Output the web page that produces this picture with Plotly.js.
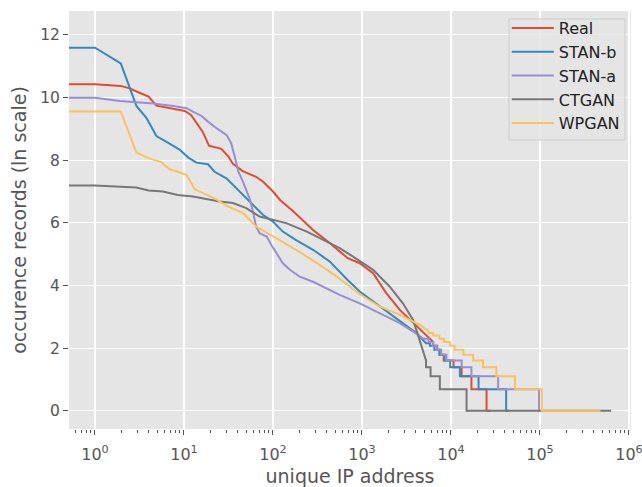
<!DOCTYPE html>
<html><head><meta charset="utf-8">
<script src="https://cdn.plot.ly/plotly-3.0.1.min.js"></script>
<style>html,body{margin:0;padding:0;background:#fff}#chart{width:642px;height:487px}</style>
</head><body><div id="chart"></div>
<script>
const seriesNames = ["Real", "STAN-b", "STAN-a", "CTGAN", "WPGAN"];
const seriesColors = ["#E24A33", "#348ABD", "#988ED5", "#777777", "#FBC15E"];

const realX = [0.5,1,1.95,2.45,3.16,4.0,4.9,6.9,10.2,12.0,13.8,16.2,19.1,26.3,31.6,35.5,45.7,64.6,77.6,100,120,170,282,437,692,944,1334,1884,2661,3758,4898,6310,6310,7000,7000,7600,7600,8300,8300,10700,10700,13183,13183,16982,16982,25119,25119,28000];
const realY = [10.42,10.42,10.37,10.29,10.15,10.03,9.74,9.66,9.57,9.44,9.18,8.91,8.46,8.36,8.11,7.88,7.65,7.47,7.31,7.0,6.73,6.36,5.77,5.35,4.87,4.71,4.39,3.75,3.22,2.80,2.48,2.20,2.08,2.08,1.95,1.95,1.79,1.79,1.61,1.61,1.39,1.39,1.10,1.10,0.69,0.69,0,0];

const stanbX = [0.5,1,1.95,2.92,3.8,4.9,6.3,9.0,11.1,13.8,18.6,22.1,30,38.9,47.9,59.7,77.6,100,129,182,282,437,676,944,1585,2661,4074,5248,5800,5800,6500,6500,7400,7400,8500,8500,9800,9800,12600,12600,20417,20417,41700,41700,45000];
const stanbY = [11.59,11.59,11.09,9.73,9.34,8.77,8.59,8.33,8.09,7.92,7.87,7.63,7.42,7.10,6.84,6.60,6.25,6.04,5.72,5.45,5.14,4.76,4.20,3.81,3.33,2.85,2.48,2.16,2.16,2.08,2.08,1.95,1.95,1.79,1.79,1.61,1.61,1.39,1.39,1.10,1.10,0.69,0.69,0,0];

const stanaX = [0.5,1,1.9,4.47,7.6,10.7,12.6,15.8,18.6,23.2,30.2,33.9,37.2,40.7,46.2,50.1,55,60.3,64.6,70.8,85.1,95.5,110,129,155,200,282,437,562,944,1585,2661,3758,4898,5600,5600,6300,6300,6918,6918,7762,7762,8900,8900,13183,13183,16982,16982,33884,33884,97700,97700,100000];
const stanaY = [9.99,9.99,9.89,9.81,9.73,9.66,9.55,9.41,9.23,9.02,8.80,8.54,8.11,7.65,7.30,7.05,6.75,6.30,5.88,5.67,5.56,5.30,5.03,4.71,4.50,4.28,4.12,3.85,3.70,3.43,3.12,2.80,2.53,2.30,2.30,2.20,2.20,2.08,2.08,1.95,1.95,1.79,1.79,1.61,1.61,1.39,1.39,1.10,1.10,0.69,0.69,0,0];

const ctganX = [0.5,1,2.92,4.0,5.8,8.5,12.6,17.8,25.1,35.5,50.1,70.8,100,141,240,398,562,794,1334,2042,2884,3758,4467,5000,5248,5248,5900,5900,7500,7500,14962,14962,630957];
const ctganY = [7.19,7.19,7.13,7.03,7.0,6.89,6.84,6.75,6.68,6.63,6.47,6.20,6.09,5.99,5.72,5.40,5.19,4.92,4.50,3.97,3.43,2.90,2.26,1.79,1.61,1.39,1.39,1.10,1.10,0.69,0.69,0,0];

const wpganX = [0.5,1.95,2.92,3.8,5.6,6.9,8.5,10.7,13.2,17.8,23.2,30.2,46.2,64.6,100,182,309,513,692,944,1585,2661,4467,5600,5600,6310,6310,7413,7413,8318,8318,9772,9772,10965,10965,13804,13804,17783,17783,22909,22909,32359,32359,52481,52481,104713,104713,478630];
const wpganY = [9.55,9.55,8.25,8.09,7.93,7.71,7.63,7.53,7.07,6.91,6.75,6.54,6.31,5.88,5.56,5.14,4.72,4.30,4.02,3.72,3.33,3.06,2.74,2.55,2.48,2.48,2.40,2.40,2.30,2.30,2.20,2.20,2.08,2.08,1.95,1.95,1.79,1.79,1.61,1.61,1.39,1.39,1.10,1.10,0.69,0.69,0,0];

const xTickVals = [1,10,100,1000,10000,100000,1000000];
const xTickText = ["10<sup>0</sup>","10<sup>1</sup>","10<sup>2</sup>","10<sup>3</sup>","10<sup>4</sup>","10<sup>5</sup>","10<sup>6</sup>"];
const yTickVals = [0,2,4,6,8,10,12];

const xs = [realX, stanbX, stanaX, ctganX, wpganX];
const ys = [realY, stanbY, stanaY, ctganY, wpganY];

const traces = seriesNames.map((n, i) => ({
  type: "scatter", mode: "lines", name: n,
  x: xs[i], y: ys[i],
  line: {color: seriesColors[i], width: 2}
}));

const minorVals = [];
for (let d = -1; d <= 6; d++) for (let k = 2; k <= 9; k++) minorVals.push(k * Math.pow(10, d));

const layout = {
  width: 642, height: 487,
  margin: {l: 69, r: 11, t: 11, b: 58},
  paper_bgcolor: "#ffffff",
  plot_bgcolor: "#E5E5E5",
  showlegend: true,
  legend: {
    x: 0.779, xanchor: "left", y: 1.0, yanchor: "top",
    bgcolor: "rgba(0,0,0,0)", borderwidth: 0, itemwidth: 42,
    font: {family: "DejaVu Sans", size: 16, color: "#222222"}
  },
  shapes: [{
    type: "rect", xref: "paper", yref: "paper", layer: "above",
    x0: 0.7829, x1: 0.9893, y0: 0.6914, y1: 0.9809,
    fillcolor: "rgba(229,229,229,0.8)", line: {color: "#CCCCCC", width: 1}
  }],
  xaxis: {
    type: "log", range: [-0.292, 6.023],
    tickmode: "array", tickvals: xTickVals, ticktext: xTickText,
    ticks: "outside", ticklen: 4.5, tickwidth: 1, tickcolor: "#555555",
    tickfont: {family: "DejaVu Sans", size: 16, color: "#555555"},
    ticklabelstandoff: 6, ticklabeloverflow: "allow",
    showgrid: true, gridcolor: "#FFFFFF", gridwidth: 1.2,
    zeroline: false, showline: false,
    minor: {tickmode: "array", tickvals: minorVals, ticks: "outside", ticklen: 2.5, tickwidth: 1, tickcolor: "#555555", showgrid: false},
    title: {text: "unique IP address", font: {family: "DejaVu Sans", size: 19, color: "#555555"}, standoff: 8}
  },
  yaxis: {
    range: [-0.58, 12.76],
    tickmode: "array", tickvals: yTickVals,
    ticks: "outside", ticklen: 5, tickwidth: 1, tickcolor: "#555555",
    tickfont: {family: "DejaVu Sans", size: 15.5, color: "#555555"},
    showgrid: true, gridcolor: "#FFFFFF", gridwidth: 1.2,
    zeroline: false, showline: false,
    title: {text: "occurence records (ln scale)", font: {family: "DejaVu Sans", size: 19, color: "#555555"}, standoff: 8}
  }
};

Plotly.newPlot("chart", traces, layout, {displayModeBar: false, staticPlot: true});
</script>
</body></html>
